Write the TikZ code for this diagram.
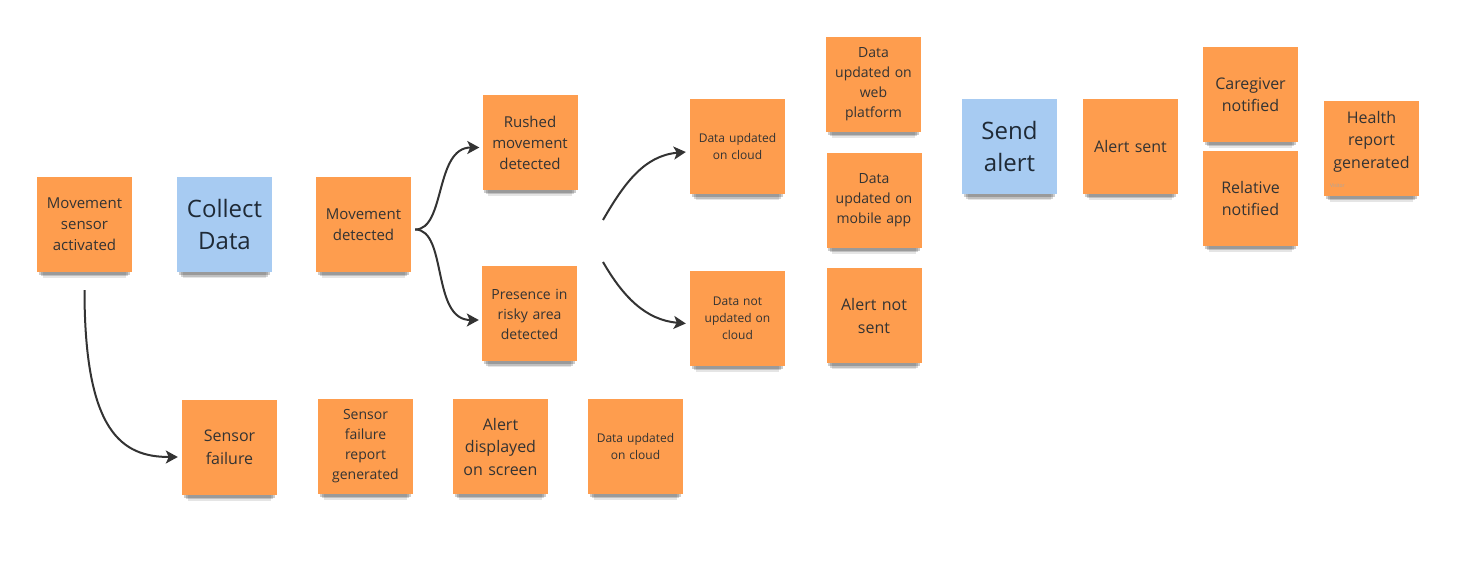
\documentclass[tikz,border=0pt]{standalone}
\usepackage{fontspec}
\setmainfont{Open Sans}
\usetikzlibrary{arrows.meta,shadows}
\definecolor{noteorange}{HTML}{FE9D4E}
\definecolor{noteblue}{HTML}{A7CBF2}
\definecolor{inkgray}{HTML}{333333}
\definecolor{inkblue}{HTML}{1F2A36}
\tikzset{
    sticky/.style={
        rectangle, minimum width=95pt, minimum height=95pt,
        text width=88pt, align=center, inner sep=0pt,
        fill=noteorange, text=inkgray,
        general shadow={fill=black, opacity=0.10, shadow yshift=-13pt, shadow scale=0.88},
        general shadow={fill=black, opacity=0.16, shadow yshift=-9pt, shadow scale=0.92},
        general shadow={fill=black, opacity=0.20, shadow yshift=-5pt, shadow scale=0.96}
    },
    task/.style={sticky, fill=noteblue, text=inkblue},
    flow/.style={draw=inkgray, line width=2pt, -{Stealth[length=12pt,width=13pt,inset=3pt]}},
    txt12/.style={font=\fontsize{12}{17}\selectfont},
    txt14/.style={font=\fontsize{14}{20}\selectfont},
    txt15/.style={font=\fontsize{15}{21}\selectfont},
    txt16/.style={font=\fontsize{16}{22.5}\selectfont},
    txt24/.style={font=\fontsize{24}{32}\selectfont},
    tag/.style={font=\fontsize{5}{6}\selectfont, text=black!35, inner sep=0pt},
}
\begin{document}
\begin{tikzpicture}[x=1pt, y=1pt]
\useasboundingbox (0,0) rectangle (1477,568);
% top rows
\node[sticky, txt15] (sensor) at (84.5,343.5) {Movement\\sensor\\activated};
\node[task, txt24] (collect) at (224.5,343) {Collect\\Data};
\node[sticky, txt15] (moved) at (363.5,343.5) {Movement\\detected};
\node[sticky, txt15] (rushed) at (530,425.5) {Rushed\\movement\\detected};
\node[sticky, txt14] (risky) at (529.5,254) {Presence in\\risky area\\detected};
\node[sticky, txt12] (cloud) at (737.5,421) {Data updated\\on cloud};
\node[sticky, txt12] (nocloud) at (737.5,249.5) {Data not\\updated on\\cloud};
\node[sticky, txt14] (web) at (873.5,483.5) {Data\\updated on\\web\\platform};
\node[sticky, txt14] (mobile) at (874,367.5) {Data\\updated on\\mobile app};
\node[sticky, txt16] (notsent) at (874,252) {Alert not\\sent};
\node[task, txt24] (send) at (1009.5,421) {Send\\alert};
\node[sticky, txt16] (sent) at (1130.5,421.5) {Alert sent};
\node[sticky, txt16] (caregiver) at (1250.5,473.5) {Caregiver\\notified};
\node[sticky, txt16] (relative) at (1250.5,369.5) {Relative\\notified};
\node[sticky, txt16] (health) at (1371.5,419.5) {Health\\report\\generated\par\vspace{14pt}};
\node[tag, anchor=south west] (visitor) at ([shift={(6,8)}]health.south west) {Visitor};
% failure row
\node[sticky, txt16] (failure) at (229.5,120.5) {Sensor\\failure};
\node[sticky, txt14] (failreport) at (365.5,121.5) {Sensor\\failure\\report\\generated};
\node[sticky, txt16] (display) at (500.5,121.5) {Alert\\displayed\\on screen};
\node[sticky, txt12] (cloudlog) at (635.5,121.5) {Data updated\\on cloud};
% connectors
\coordinate (sensorout) at ([yshift=-18]sensor.south);
\coordinate (fork) at ([shift={(4,-5)}]moved.east);
\coordinate (upfrom) at (603,348);
\coordinate (downfrom) at (603,306);
\draw[flow] (sensorout) to[out=-90, in=180, out looseness=1.9, in looseness=0.75] ([shift={(-4,-9.5)}]failure.west);
\draw[flow] (fork) to[out=0, in=180, out looseness=0.75, in looseness=1.1] ([shift={(-3,-5)}]rushed.west);
\draw[flow] (fork) to[out=0, in=180, out looseness=0.75, in looseness=1.1] ([shift={(-3,-6)}]risky.west);
\draw[flow] (upfrom) to[out=60, in=185] ([shift={(-4,-5)}]cloud.west);
\draw[flow] (downfrom) to[out=-60, in=175] ([shift={(-4,-5)}]nocloud.west);
\end{tikzpicture}
\end{document}
